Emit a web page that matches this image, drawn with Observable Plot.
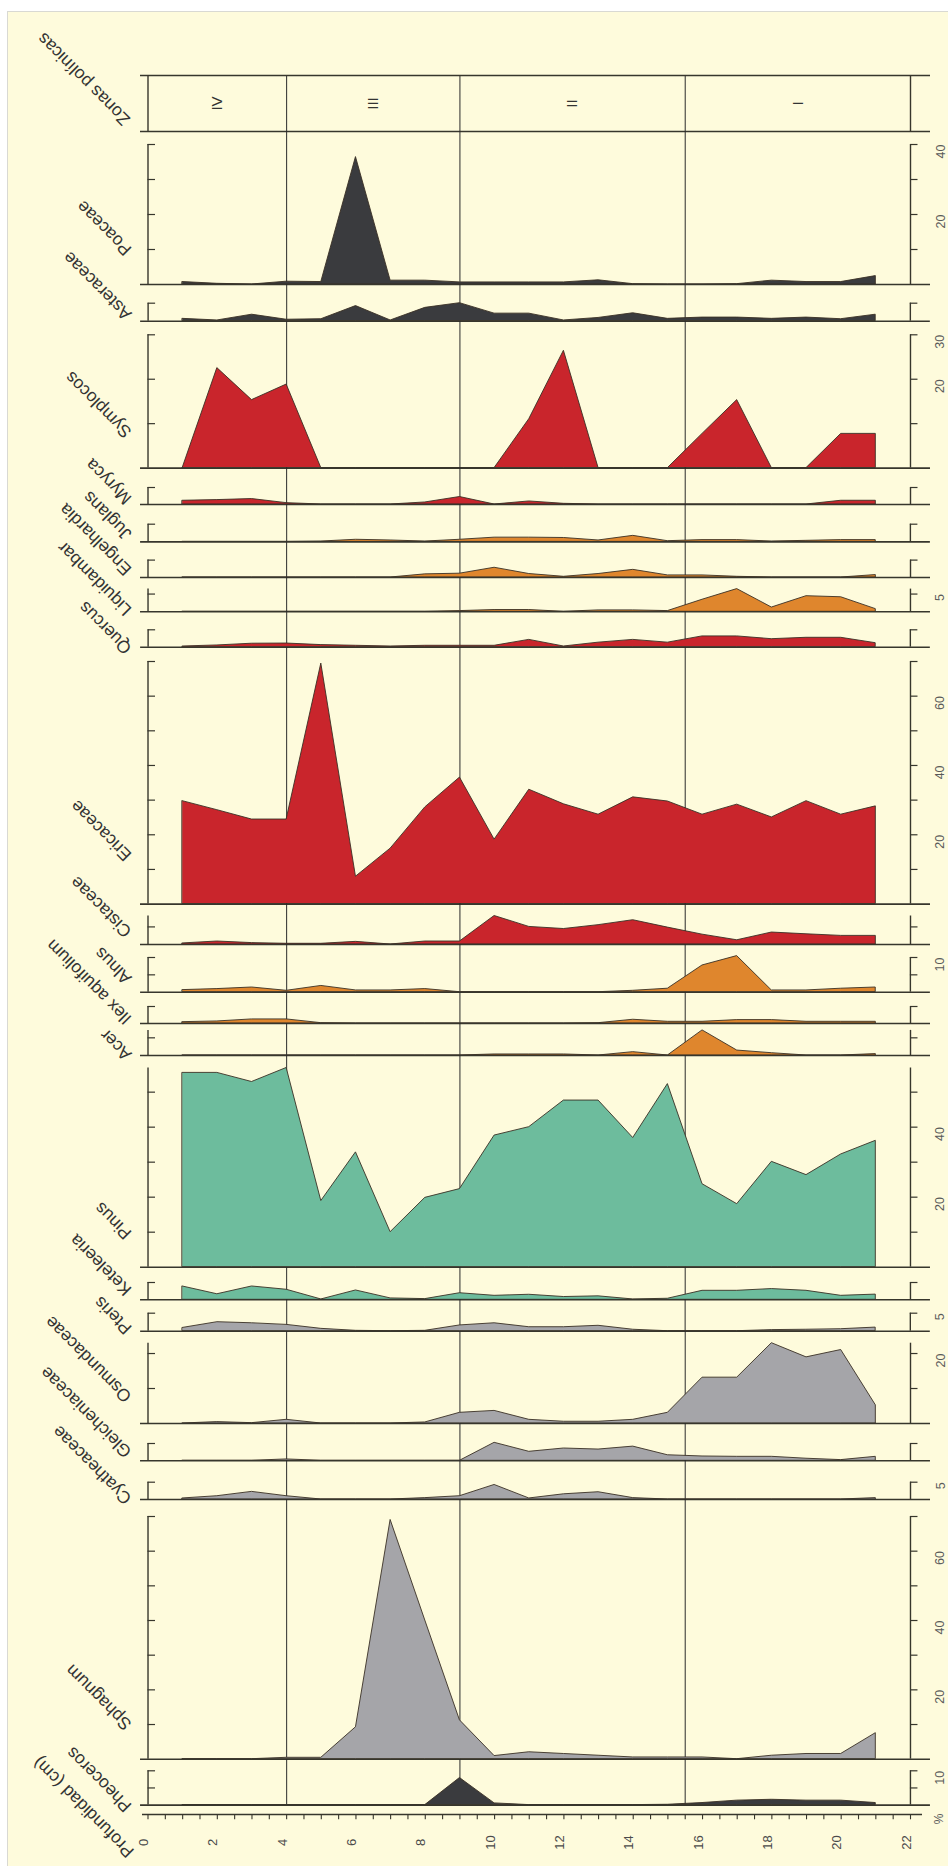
<!DOCTYPE html>
<html>
<head>
<meta charset="utf-8">
<script src="https://cdn.jsdelivr.net/npm/d3@7"></script>
<script src="https://cdn.jsdelivr.net/npm/@observablehq/plot@0.6"></script>
<style>
html, body { margin: 0; padding: 0; background: #ffffff; }
#page { position: absolute; left: 7px; top: 11px; width: 941px; height: 1855px; background: #fefbdc; border-left: 1px solid #d9d9d3; border-top: 1px solid #d9d9d3; }
#chart { position: absolute; left: 0; top: 0; width: 948px; height: 1866px; }
#chart svg { position: absolute; left: 0; overflow: visible; }
</style>
</head>
<body>
<div id="page"></div>
<div id="chart"></div>
<script>
// ---------- data ----------
const depths = [1, 2, 3, 4, 5, 6, 7, 8, 9, 10, 11, 12, 13, 14, 15, 16, 17, 18, 19, 20, 21];
const zoneBounds = [4, 9, 15.5];
const zoneEdges = [0, 4, 9, 15.5, 22];
const zoneNames = ["IV", "III", "II", "I"];
const depthLabels = [0, 2, 4, 6, 8, 10, 12, 14, 16, 18, 20, 22];

const poaceae        = [0.7, 0.2, 0, 0.8, 0.7, 36.4, 1.1, 1.1, 0.6, 0.6, 0.6, 0.6, 1.2, 0.1, 0, 0, 0.1, 1.1, 0.7, 0.7, 2.4];
const asteraceae     = [0.65, 0.2, 1.8, 0.4, 0.55, 4.2, 0.2, 3.7, 5.0, 2.1, 2.1, 0.2, 0.9, 2.2, 0.65, 1.0, 1.0, 0.65, 1.0, 0.55, 1.8];
const symplocos      = [0, 22.5, 15.3, 18.8, 0, 0, 0, 0, 0, 0, 11, 26.4, 0, 0, 0, 7.7, 15.3, 0, 0, 7.7, 7.7];
const myryca         = [1.1, 1.3, 1.6, 0.4, 0, 0, 0, 0.6, 2.2, 0, 0.9, 0.2, 0, 0, 0, 0, 0, 0, 0, 1.1, 1.1];
const juglans        = [0, 0, 0, 0, 0.1, 0.6, 0.4, 0.1, 0.6, 1.2, 1.2, 1.1, 0.4, 1.7, 0.2, 0.5, 0.5, 0.1, 0.3, 0.5, 0.5];
const engelhardia    = [0, 0, 0, 0, 0, 0, 0, 0.9, 1.1, 2.8, 1.0, 0.2, 1.0, 2.2, 0.6, 0.6, 0.2, 0, 0, 0, 0.7];
const liquidambar    = [0, 0, 0, 0, 0, 0, 0, 0, 0.2, 0.5, 0.5, 0, 0.4, 0.4, 0.2, 3.4, 6.4, 1.2, 4.4, 4.1, 0.75];
const quercus        = [0.2, 0.5, 1.0, 1.05, 0.6, 0.4, 0.2, 0.4, 0.4, 0.4, 2.1, 0.2, 1.3, 2.1, 1.3, 3.1, 3.1, 2.3, 2.7, 2.7, 1.15];
const ericaceae      = [29.7, 27.1, 24.4, 24.4, 69.4, 7.9, 16.0, 27.9, 36.5, 18.6, 33.0, 28.8, 25.8, 30.8, 29.6, 25.8, 28.7, 25.0, 29.7, 25.8, 28.2];
const cistaceae      = [0.3, 0.85, 0.4, 0.2, 0.2, 0.75, 0, 0.85, 0.85, 8.1, 5.0, 4.4, 5.5, 6.9, 4.8, 2.8, 1.2, 3.4, 2.9, 2.45, 2.45];
const alnus          = [0.6, 0.9, 1.35, 0.4, 1.8, 0.5, 0.5, 0.9, 0, 0, 0, 0, 0, 0.4, 1.0, 7.7, 10.4, 0.5, 0.5, 1.0, 1.35];
const ilex           = [0.4, 0.6, 1.2, 1.2, 0.1, 0, 0, 0, 0, 0, 0, 0, 0.1, 1.1, 0.5, 0.5, 1.0, 1.0, 0.5, 0.5, 0.5];
const acer           = [0, 0, 0, 0, 0, 0, 0, 0, 0, 0.3, 0.3, 0.3, 0, 0.95, 0, 7.1, 1.4, 0.65, 0, 0, 0.4];
const pinus          = [55.5, 55.5, 52.9, 56.9, 18.9, 32.8, 10.0, 19.8, 22.3, 37.6, 40.0, 47.6, 47.6, 36.9, 52.3, 23.7, 18.0, 30.1, 26.3, 32.2, 36.1];
const keteleeria     = [3.85, 1.6, 3.85, 2.9, 0.1, 2.7, 0.4, 0.2, 1.9, 1.15, 1.45, 0.8, 1.0, 0.1, 0.3, 2.6, 2.6, 3.1, 2.6, 1.15, 1.5];
const pteris         = [0.9, 2.5, 2.2, 1.75, 0.65, 0.1, 0, 0.1, 1.6, 2.2, 1.1, 1.1, 1.5, 0.4, 0, 0, 0, 0.3, 0.4, 0.55, 1.0];
const osmundaceae    = [0, 0.4, 0.1, 1.05, 0, 0, 0, 0.3, 3.05, 3.6, 1.05, 0.5, 0.5, 1.05, 3.05, 13.1, 13.1, 22.95, 18.9, 21.0, 5.2];
const gleicheniaceae = [0, 0, 0, 0.4, 0, 0, 0, 0, 0, 5.2, 2.6, 3.55, 3.25, 4.1, 1.6, 1.25, 1.15, 1.15, 0.6, 0.2, 1.15];
const cyatheaceae    = [0.3, 0.95, 2.2, 0.95, 0, 0, 0, 0.4, 0.95, 4.2, 0.3, 1.5, 2.1, 0.4, 0, 0, 0, 0, 0, 0, 0.4];
const sphagnum       = [0, 0, 0, 0.4, 0.4, 9.2, 69, 40, 11.2, 0.9, 2.0, 1.5, 1.0, 0.5, 0.5, 0.5, 0, 1.0, 1.5, 1.5, 7.5];
const pheoceros      = [0, 0, 0, 0, 0, 0, 0, 0, 7.9, 0.5, 0, 0, 0, 0, 0.1, 0.6, 1.3, 1.55, 1.3, 1.3, 0.6];

// ---------- styles ----------
const C = { dark: "#3a3b3e", red: "#c9252c", orange: "#df862d", teal: "#6dbc9d", gray: "#a5a5a9" };
const axisColor = "#37362c";
const W = 948, ML = 147.5, MR = 38, frameW = W - ML - MR, tickLen = 7.5;
const font = "Liberation Sans, Arial, Helvetica, sans-serif";

// ---------- layout (page pixels) ----------
const zonasTop = 75, zonasBottom = 131;
const panels = [
  { label: "Poaceae",        values: poaceae,        color: C.dark,   base: 284,    top: 144,    axisTop: 40,   ticks: [10, 20, 30, 40], tickLabels: [20, 40], labelDy: 36 },
  { label: "Asteraceae",     values: asteraceae,     color: C.dark,   base: 320.7,  top: 302.7,  axisTop: 5,    ticks: [5], tickLabels: [], labelDy: 8 },
  { label: "Symplocos",      values: symplocos,      color: C.red,    base: 467.3,  top: 334,    axisTop: 30,   ticks: [10, 20, 30], tickLabels: [20, 30], labelDy: 37 },
  { label: "Myryca",         values: myryca,         color: C.red,    base: 504.3,  top: 487.3,  axisTop: 5,    ticks: [5], tickLabels: [], labelDy: 7 },
  { label: "Juglans",        values: juglans,        color: C.orange, base: 541.7,  top: 524,    axisTop: 5,    ticks: [5], tickLabels: [], labelDy: 9 },
  { label: "Engelhardia",    values: engelhardia,    color: C.orange, base: 576.7,  top: 559.3,  axisTop: 5,    ticks: [5], tickLabels: [], labelDy: 9 },
  { label: "Liquidambar",    values: liquidambar,    color: C.orange, base: 611,    top: 588.3,  axisTop: 6.4,  ticks: [5], tickLabels: [5], labelDy: 3 },
  { label: "Quercus",        values: quercus,        color: C.red,    base: 646.7,  top: 629.3,  axisTop: 5,    ticks: [5], tickLabels: [], labelDy: 0 },
  { label: "Ericaceae",      values: ericaceae,      color: C.red,    base: 903.3,  top: 660.7,  axisTop: 70,   ticks: [10, 20, 30, 40, 50, 60, 70], tickLabels: [20, 40, 60], labelDy: 50 },
  { label: "Cistaceae",      values: cistaceae,      color: C.red,    base: 944.3,  top: 915.8,  axisTop: 8.1,  ticks: [5], tickLabels: [], labelDy: 14 },
  { label: "Alnus",          values: alnus,          color: C.orange, base: 992,    top: 957.3,  axisTop: 10,   ticks: [5, 10], tickLabels: [10], labelDy: 15 },
  { label: "Ilex aquifolium",values: ilex,           color: C.orange, base: 1023,   top: 1006,   axisTop: 5,    ticks: [5], tickLabels: [], labelDy: 6 },
  { label: "Acer",           values: acer,           color: C.orange, base: 1055,   top: 1029.9, axisTop: 7.1,  ticks: [5], tickLabels: [], labelDy: 2 },
  { label: "Pinus",          values: pinus,          color: C.teal,   base: 1266.7, top: 1067.5, axisTop: 56.9, ticks: [10, 20, 30, 40, 50], tickLabels: [20, 40], labelDy: 35 },
  { label: "Keteleeria",     values: keteleeria,     color: C.teal,   base: 1299,   top: 1281.7, axisTop: 5,    ticks: [5], tickLabels: [], labelDy: 11 },
  { label: "Pteris",         values: pteris,         color: C.gray,   base: 1330.7, top: 1312.7, axisTop: 5,    ticks: [5], tickLabels: [5], labelDy: 4 },
  { label: "Osmundaceae",    values: osmundaceae,    color: C.gray,   base: 1422.7, top: 1342.4, axisTop: 22.95,ticks: [10, 20], tickLabels: [20], labelDy: 28 },
  { label: "Gleicheniaceae", values: gleicheniaceae, color: C.gray,   base: 1460,   top: 1442.7, axisTop: 5,    ticks: [5], tickLabels: [], labelDy: 10 },
  { label: "Cyatheaceae",    values: cyatheaceae,    color: C.gray,   base: 1499,   top: 1481.7, axisTop: 5,    ticks: [5], tickLabels: [5], labelDy: 2 },
  { label: "Sphagnum",       values: sphagnum,       color: C.gray,   base: 1758.7, top: 1516,   axisTop: 70,   ticks: [10, 20, 30, 40, 50, 60, 70], tickLabels: [20, 40, 60], labelDy: 36 },
  { label: "Pheoceros",      values: pheoceros,      color: C.dark,   base: 1804.3, top: 1770,   axisTop: 10,   ticks: [5, 10], tickLabels: [10], labelDy: 0 }
];

const chart = document.getElementById("chart");
function place(svg, top) { svg.style.top = top + "px"; chart.appendChild(svg); }

const labelStyle = { rotate: -135, textAnchor: "start", lineAnchor: "bottom", fontSize: 17.5, fill: "#333", fontFamily: font, frameAnchor: "bottom-left", dx: -15.5 };

// Zonas polínicas
{
  const h = zonasBottom - zonasTop;
  const svg = Plot.plot({
    width: W, height: h, marginTop: 0, marginBottom: 0, marginLeft: ML, marginRight: MR,
    x: { domain: [0, 22], axis: null },
    y: { domain: [0, 1], range: [h, 0], axis: null },
    style: { overflow: "visible", background: "transparent" },
    marks: [
      Plot.ruleX(zoneBounds, { stroke: "#2a2a2a", strokeWidth: 1 }),
      Plot.ruleY([0, 1], { stroke: axisColor, strokeWidth: 1.6, insetLeft: -7.5, insetRight: -20 }),
      Plot.ruleX([0, 22], { stroke: axisColor, strokeWidth: 1.4 }),
      Plot.text(zoneNames, { x: (d, i) => (zoneEdges[i] + zoneEdges[i + 1]) / 2, y: 0.5, text: d => d, rotate: -90, fontSize: 15, fill: "#333", fontFamily: font }),
      Plot.text(["Zonas polínicas"], { ...labelStyle, text: d => d, dx: -17, dy: -13 })
    ]
  });
  place(svg, zonasTop);
}

// Taxon panels
let prevBase = zonasBottom;
for (const p of panels) {
  const h = p.base - prevBase;
  const data = depths.map((d, i) => ({ depth: d, value: p.values[i] }));
  const svg = Plot.plot({
    width: W, height: h, marginTop: 0, marginBottom: 0, marginLeft: ML, marginRight: MR,
    x: { domain: [0, 22], axis: null },
    y: { domain: [0, p.axisTop], range: [h, p.top - prevBase], axis: null },
    style: { overflow: "visible", background: "transparent" },
    marks: [
      Plot.ruleX(zoneBounds, { stroke: "#2a2a2a", strokeWidth: 1 }),
      Plot.areaY(data, { x: "depth", y: "value", fill: p.color, stroke: "#3a3025", strokeWidth: 0.9, strokeLinejoin: "round" }),
      Plot.ruleY([0], { stroke: axisColor, strokeWidth: 1.6, insetLeft: -7.5, insetRight: -20 }),
      Plot.ruleX([0, 22], { y1: 0, y2: p.axisTop, stroke: axisColor, strokeWidth: 1.4 }),
      Plot.ruleY(p.ticks, { stroke: axisColor, strokeWidth: 1.2, insetRight: frameW - tickLen }),
      Plot.ruleY(p.ticks, { stroke: axisColor, strokeWidth: 1.2, insetLeft: frameW, insetRight: -tickLen }),
      Plot.text(p.tickLabels, { y: d => d, text: d => String(d), frameAnchor: "right", dx: 30, rotate: -90, fontSize: 12.5, fill: "#5a5a5a", fontFamily: font }),
      Plot.text([p.label], { ...labelStyle, text: d => d, dy: -p.labelDy })
    ]
  });
  place(svg, prevBase);
  prevBase = p.base;
}

// Depth axis
{
  const top = 1804, axisY = 10, h = 62;
  const minorTicks = d3.range(0, 22.01, 0.5);
  const svg = Plot.plot({
    width: W, height: h, marginTop: axisY, marginBottom: h - axisY - 5.3, marginLeft: ML, marginRight: MR,
    x: { domain: [0, 22], axis: null },
    y: { domain: [0, 1], range: [axisY, axisY + 5.3], axis: null },
    style: { overflow: "visible", background: "transparent" },
    marks: [
      Plot.ruleY([0], { stroke: axisColor, strokeWidth: 1.5, insetLeft: -5.5, insetRight: -12 }),
      Plot.ruleX(minorTicks, { stroke: axisColor, strokeWidth: 1.1 }),
      Plot.text(depthLabels, { x: d => d, text: d => String(d), frameAnchor: "bottom", dy: 22.7, rotate: -90, fontSize: 13, fill: "#4a4a4a", fontFamily: font }),
      Plot.text(["%"], { text: d => d, frameAnchor: "top-right", dx: 24, dy: -1, rotate: -90, fontSize: 12, fill: "#5a5a5a", fontFamily: font }),
      Plot.text(["Profundidad (cm)"], { ...labelStyle, text: d => d, dx: -13, dy: 30.7 })
    ]
  });
  place(svg, top);
}
</script>
</body>
</html>
